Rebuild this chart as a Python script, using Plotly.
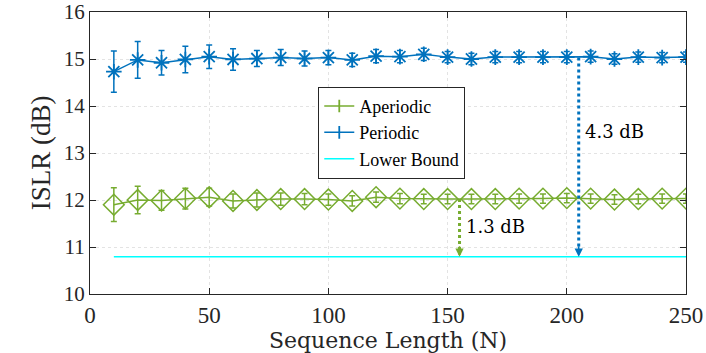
import plotly.graph_objects as go

# Datos
longitudes = [10, 20, 30, 40, 50, 60, 70, 80, 90, 100, 110, 120, 130, 140, 150,
              160, 170, 180, 190, 200, 210, 220, 230, 240, 250]

islr_periodico = [14.73, 14.98, 14.92, 14.99, 15.05, 14.99, 15.01, 15.03, 15.01, 15.03,
                  14.98, 15.06, 15.05, 15.10, 15.04, 15.00, 15.04, 15.04, 15.04, 15.04,
                  15.05, 15.00, 15.04, 15.03, 15.04]
err_periodico = [0.44, 0.39, 0.26, 0.28, 0.25, 0.23, 0.17, 0.17, 0.16, 0.15,
                 0.14, 0.14, 0.13, 0.13, 0.12, 0.12, 0.12, 0.12, 0.12, 0.12,
                 0.12, 0.11, 0.11, 0.11, 0.11]

islr_aperiodico = [11.90, 12.00, 11.99, 12.03, 12.06, 11.98, 12.00, 12.02, 12.02, 12.01,
                   11.98, 12.06, 12.03, 12.02, 12.02, 12.02, 12.02, 12.03, 12.03, 12.04,
                   12.03, 12.01, 12.02, 12.03, 12.03]
err_aperiodico = [0.36, 0.29, 0.21, 0.22, 0.19, 0.15, 0.15, 0.13, 0.12, 0.12,
                  0.11, 0.11, 0.11, 0.10, 0.10, 0.10, 0.10, 0.10, 0.10, 0.10,
                  0.10, 0.10, 0.10, 0.10, 0.10]

cota_inferior = [10.79] * len(longitudes)

# Flechas de diferencia
flecha_x = [155, 205]
flecha_y = [12.02, 15.03]
flecha_txt = ["1.3 dB", "4.3 dB"]
flecha_txt_y = [11.44, 13.46]

AZUL = "#0072BD"
VERDE = "#77AC30"
CIAN = "#00FFFF"
TIMES = "Liberation Serif, serif"
CM = "DejaVu Serif, serif"

fig = go.Figure()

fig.add_trace(go.Scatter(
    x=longitudes, y=islr_aperiodico, name="Aperiodic", showlegend=False,
    mode="lines+markers",
    line=dict(color=VERDE, width=1.5),
    marker=dict(symbol="diamond-open", size=16, color=VERDE, line=dict(width=1.5)),
    error_y=dict(type="data", array=err_aperiodico, color=VERDE, thickness=1.5, width=3),
))

fig.add_trace(go.Scatter(
    x=longitudes, y=islr_periodico, name="Periodic", showlegend=False,
    mode="lines+markers",
    line=dict(color=AZUL, width=1.5),
    marker=dict(symbol="asterisk-open", size=13, color=AZUL, line=dict(width=1.8, color=AZUL)),
    error_y=dict(type="data", array=err_periodico, color=AZUL, thickness=1.5, width=3),
))

fig.add_trace(go.Scatter(
    x=longitudes, y=cota_inferior, name="Lower Bound", showlegend=False,
    mode="lines", line=dict(color=CIAN, width=1.5),
))

# Entradas de leyenda (estilo barra de error)
for nombre, color, modo in [("Aperiodic", VERDE, "lines+markers"),
                            ("Periodic", AZUL, "lines+markers"),
                            ("Lower Bound", CIAN, "lines")]:
    fig.add_trace(go.Scatter(
        x=[None], y=[None], name=nombre, mode=modo,
        line=dict(color=color, width=1.5),
        marker=dict(symbol="line-ns-open", size=9, color=color, line=dict(width=1.8, color=color)),
    ))

# Flechas punteadas
colores_flecha = [VERDE, AZUL]
for i in range(2):
    fig.add_trace(go.Scatter(
        x=[flecha_x[i], flecha_x[i]], y=[flecha_y[i], cota_inferior[0] + 0.05],
        mode="lines", line=dict(color=colores_flecha[i], width=3, dash="dot"),
        showlegend=False, hoverinfo="skip",
    ))
    fig.add_annotation(
        x=flecha_x[i], y=cota_inferior[0], xref="x", yref="y",
        ax=0, ay=-12, showarrow=True, arrowhead=2, arrowsize=1.1,
        arrowwidth=1.5, arrowcolor=colores_flecha[i], text="",
    )
    fig.add_annotation(
        x=flecha_x[i] + 2, y=flecha_txt_y[i], xref="x", yref="y",
        text=flecha_txt[i], showarrow=False, xanchor="left",
        font=dict(family=CM, size=18, color="black"),
    )

eje = dict(
    showline=True, linecolor="#262626", linewidth=1, mirror="ticks",
    ticks="inside", ticklen=6, tickcolor="#262626",
    showgrid=True, gridcolor="#E3E3E3", griddash="dot", gridwidth=1,
    zeroline=False, automargin=False, ticklabeloverflow="allow",
)

fig.update_layout(
    width=706, height=353,
    margin=dict(l=90, r=20, t=12, b=59),
    plot_bgcolor="white", paper_bgcolor="white",
    xaxis=dict(eje, range=[0, 250], dtick=50,
               tickfont=dict(family=TIMES, size=23, color="#262626"),
               title=dict(text="Sequence Length (N)", standoff=2,
                          font=dict(family=CM, size=22, color="#262626"))),
    yaxis=dict(eje, range=[10, 16], dtick=1,
               tickfont=dict(family=TIMES, size=21, color="#262626"),
               title=dict(text="ISLR (dB)", standoff=5,
                          font=dict(family=TIMES, size=27, color="#262626"))),
    legend=dict(x=0.383, y=0.735, xanchor="left", yanchor="top",
                bgcolor="white", bordercolor="#262626", borderwidth=1,
                font=dict(family=TIMES, size=18, color="black"),
                tracegroupgap=0, itemwidth=30),
    showlegend=True,
)

fig.write_html("out.html", post_script="document.body.style.margin='0';",
               config={"displayModeBar": False})
